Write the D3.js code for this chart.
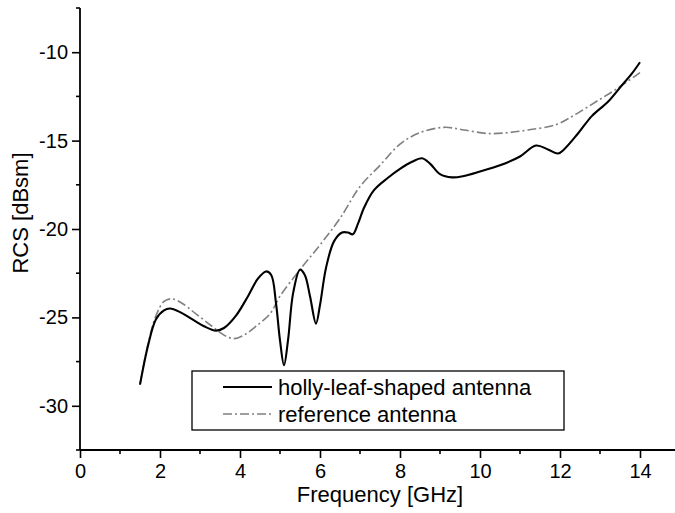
<!DOCTYPE html>
<html>
<head>
<meta charset="utf-8">
<script src="https://cdn.jsdelivr.net/npm/d3@7"></script>
<style>
  body { margin: 0; background: #fff; }
  svg { display: block; font-family: "Liberation Sans", Arial, sans-serif; }
</style>
</head>
<body>
<svg width="675" height="513"></svg>
<script>
// measured curve (holly-leaf-shaped antenna)
const hollyFreq = [1.5, 1.7, 1.9, 2.1, 2.25, 2.5, 2.8, 3.1, 3.4, 3.6, 3.9, 4.2, 4.45, 4.65, 4.78, 4.9, 5.0, 5.1, 5.2, 5.33, 5.5, 5.62, 5.75, 5.9, 6.0, 6.15, 6.35, 6.55, 6.7, 6.82, 6.95, 7.1, 7.35, 7.7, 8.0, 8.3, 8.55, 8.75, 9.0, 9.3, 9.6, 10.0, 10.5, 11.0, 11.4, 11.7, 11.95, 12.1, 12.45, 12.8, 13.2, 13.5, 13.8, 14.0];
const hollyRCS = [-28.8, -26.6, -25.1, -24.6, -24.5, -24.7, -25.1, -25.5, -25.75, -25.6, -24.9, -23.8, -22.8, -22.4, -22.6, -24.2, -26.3, -27.7, -26.3, -23.6, -22.3, -22.6, -23.8, -25.35, -24.3, -22.2, -20.7, -20.2, -20.2, -20.3, -19.7, -18.8, -17.8, -17.1, -16.6, -16.2, -16.0, -16.3, -16.9, -17.08, -17.0, -16.75, -16.4, -15.9, -15.28, -15.5, -15.73, -15.5, -14.6, -13.6, -12.8, -12.0, -11.2, -10.57];

// reference antenna
const refFreq = [1.5, 1.7, 1.9, 2.1, 2.3, 2.55, 2.9, 3.3, 3.6, 3.85, 4.1, 4.4, 4.75, 5.0, 5.5, 6.0, 6.5, 7.0, 7.5, 8.0, 8.5, 9.1, 9.6, 10.2, 10.7, 11.2, 11.9, 12.4, 12.9, 13.4, 14.0];
const refRCS = [-28.8, -26.5, -24.9, -24.1, -23.95, -24.2, -24.8, -25.5, -26.0, -26.2, -26.0, -25.5, -24.8, -23.8, -22.3, -20.9, -19.4, -17.6, -16.4, -15.2, -14.55, -14.25, -14.4, -14.6, -14.55, -14.4, -14.1, -13.5, -12.8, -12.1, -11.15];

const xTicks = [0, 2, 4, 6, 8, 10, 12, 14];
const xMinor = [1, 3, 5, 7, 9, 11, 13];
const yTicks = [-30, -25, -20, -15, -10];
const yMinor = [-32.5, -27.5, -22.5, -17.5, -12.5, -7.5];
const seriesNames = ["holly-leaf-shaped antenna", "reference antenna"];

const svg = d3.select("svg");
const mLeft = 80, mRight = 680, mTop = 8, mBottom = 450;

const x = d3.scaleLinear().domain([0, 15]).range([mLeft, mRight]);
const y = d3.scaleLinear().domain([-32.5, -7.5]).range([mBottom, mTop]);

const hollyData = hollyFreq.map((f, i) => ({ f, v: hollyRCS[i] }));
const refData = refFreq.map((f, i) => ({ f, v: refRCS[i] }));

const line = d3.line()
    .x(d => x(d.f))
    .y(d => y(d.v))
    .curve(d3.curveCatmullRom.alpha(0.5));

svg.append("path")
    .datum(refData)
    .attr("fill", "none")
    .attr("stroke", "#808080")
    .attr("stroke-width", 1.6)
    .attr("stroke-dasharray", "9,3,2,3")
    .attr("d", line);

svg.append("path")
    .datum(hollyData)
    .attr("fill", "none")
    .attr("stroke", "#000")
    .attr("stroke-width", 2.1)
    .attr("d", line);

// axes (plain hyphen for negatives, like the original)
const fmt = d => String(d);

const gx = svg.append("g")
    .attr("transform", `translate(0,${mBottom})`)
    .call(d3.axisBottom(x).tickValues(xTicks).tickSize(8).tickPadding(6).tickFormat(fmt));
gx.append("g").selectAll("line")
    .data(xMinor)
    .join("line")
    .attr("x1", d => x(d)).attr("x2", d => x(d))
    .attr("y1", 0).attr("y2", 4)
    .attr("stroke", "#000").attr("stroke-width", 1.6);

const gy = svg.append("g")
    .attr("transform", `translate(${mLeft},0)`)
    .call(d3.axisLeft(y).tickValues(yTicks).tickSize(8).tickPadding(4).tickFormat(fmt));
gy.append("g").selectAll("line")
    .data(yMinor)
    .join("line")
    .attr("y1", d => y(d)).attr("y2", d => y(d))
    .attr("x1", 0).attr("x2", -4)
    .attr("stroke", "#000").attr("stroke-width", 1.6);

[gx, gy].forEach(g => {
    g.select(".domain").attr("stroke", "#000").attr("stroke-width", 1.8);
    g.selectAll(".tick line").attr("stroke", "#000").attr("stroke-width", 1.6);
    g.selectAll(".tick text")
        .attr("fill", "#000")
        .style("font-family", "'Liberation Sans', Arial, sans-serif")
        .style("font-size", "20px");
});
gx.select(".domain").attr("d", `M${mLeft},0H${mRight}`);
gy.select(".domain").attr("d", `M0,${mBottom}V${mTop}`);

svg.append("text")
    .attr("x", 380)
    .attr("y", 502)
    .attr("text-anchor", "middle")
    .style("font-size", "22px")
    .text("Frequency [GHz]");

svg.append("text")
    .attr("transform", `translate(28,213) rotate(-90)`)
    .attr("text-anchor", "middle")
    .style("font-size", "22px")
    .text("RCS [dBsm]");

// legend
const legend = svg.append("g");
legend.append("rect")
    .attr("x", 192).attr("y", 371)
    .attr("width", 372).attr("height", 59)
    .attr("fill", "#fff").attr("stroke", "#000").attr("stroke-width", 1.3);

const legendStyles = [
    { stroke: "#000", width: 2.1, dash: null },
    { stroke: "#808080", width: 1.6, dash: "9,3,2,3" }
];
seriesNames.forEach((name, i) => {
    const yy = 387 + i * 27;
    legend.append("line")
        .attr("x1", 223).attr("x2", 272)
        .attr("y1", yy).attr("y2", yy)
        .attr("stroke", legendStyles[i].stroke)
        .attr("stroke-width", legendStyles[i].width)
        .attr("stroke-dasharray", legendStyles[i].dash);
    legend.append("text")
        .attr("x", 278).attr("y", yy + 8)
        .style("font-size", "22px")
        .text(name);
});
</script>
</body>
</html>
